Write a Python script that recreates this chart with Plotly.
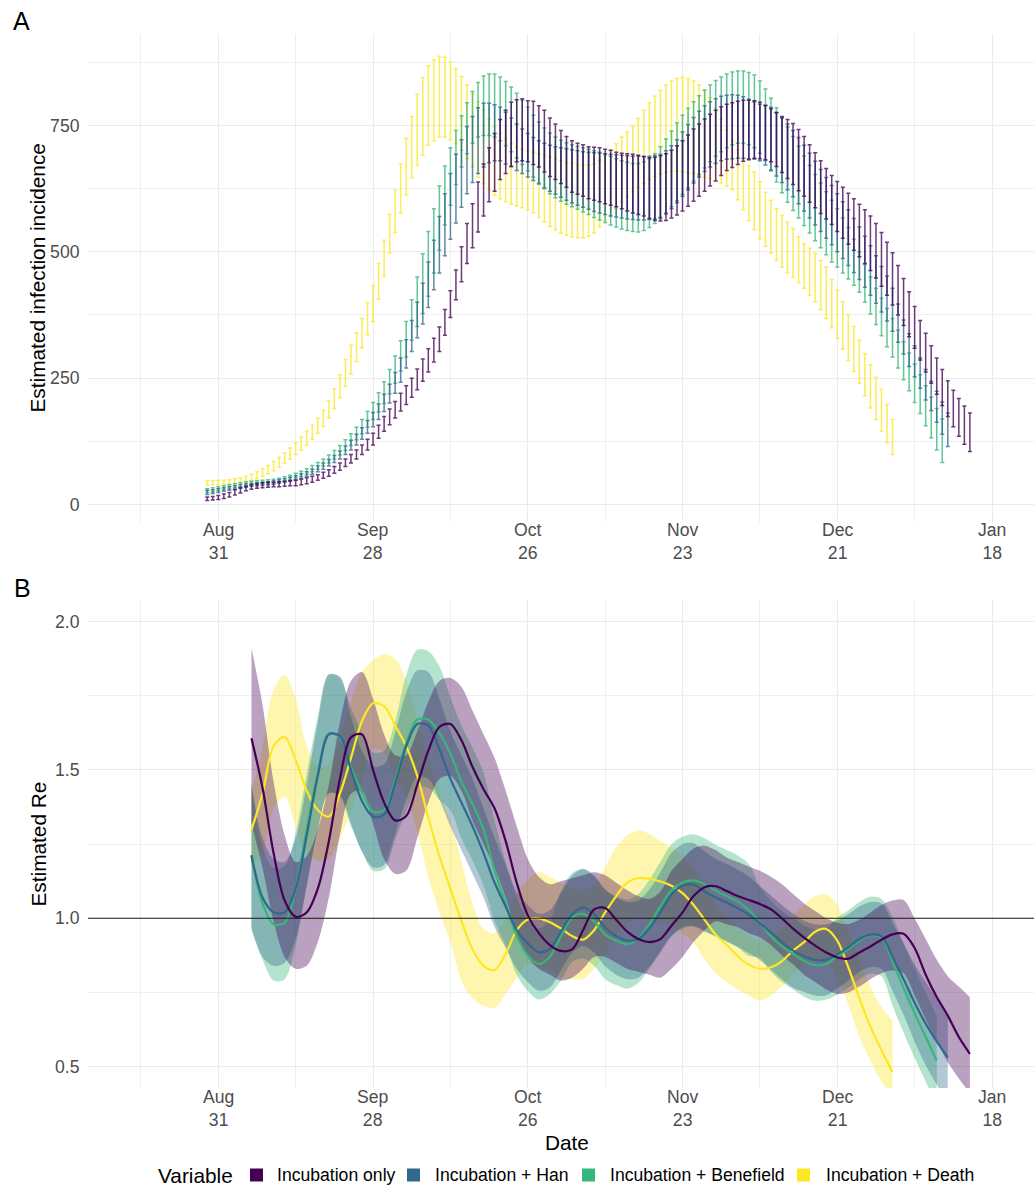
import pandas as pd
import plotly.graph_objects as go

W, H = 1034, 1187
FONT = "Liberation Sans, Arial, sans-serif"
TICK_COLOR = "#4D4D4D"

NAMES = ["Incubation only", "Incubation + Han", "Incubation + Benefield", "Incubation + Death"]
COLORS = ["#440154", "#31688E", "#35B779", "#FDE725"]

# ---------------- Panel A: daily error bars (lower / upper), starting 2020-08-29 ----------------
A_START = "2020-08-29"

PURPLE_A_UP = [15,16,18,21,24,29,33,36,39,41, 43,44,44,45,46,47,48,50,53,56,
               59,64,69,75,82,90,99,108,118,129, 141,157,174,189,204,220,235,250,268,288,
               308,329,351,386,423,464,510,556,595,638, 674,706,734,762,780,796,801,803,799,798,
               789,780,765,753,740,728,720,715,712,708, 707,706,703,701,697,695,694,693,691,688,
               686,687,690,694,701,710,720,731,743,753, 763,772,780,787,792,795,798,800,800,799,
               796,790,783,775,768,762,754,742,728,712, 696,680,665,651,639,628,616,605,594,583,
               571,556,538,519,498,473,447,421,392,364, 339,314,290,267,245,226,210,195,181]
PURPLE_A_LOW = [8,9,10,12,15,19,23,27,30,32, 33,34,35,35,36,37,37,39,41,44,
                48,52,56,62,68,75,82,90,99,108, 118,131,145,158,171,185,198,212,227,244,
                262,282,303,335,370,405,441,477,508,539, 571,599,620,643,655,669,678,680,678,673,
                668,658,649,643,635,628,618,614,610,605, 602,599,595,592,589,585,581,577,574,571,
                566,562,561,562,567,573,581,590,600,610, 620,630,640,651,661,667,673,679,682,685,
                684,682,678,669,657,645,633,621,610,598, 587,576,565,554,540,527,515,503,490,477,
                463,448,432,414,395,375,354,332,309,286, 262,240,218,196,174,154,135,119,105]

BLUE_A_UP = [28,29,31,33,35,37,39,41,42,43, 44,45,47,49,51,54,57,61,65,70,
             76,82,89,97,106,116,127,139,152,166, 182,199,218,238,261,290,326,364,400,438,
             480,523,570,615,655,693,722,748,768,785, 794,794,791,786,776,765,753,743,734,726,
             720,715,711,708,706,704,702,700,698,697, 696,695,694,693,692,691,690,689,689,689,
             689,690,693,700,710,722,737,752,766,778, 789,797,803,808,810,811,810,807,802,797,
             792,789,786,776,765,753,740,726,711,695, 679,663,647,631,615,599,583,566,549,531,
             512,492,471,452,428,397,365,338,314,290, 267,244,224,203,181]
BLUE_A_LOW = [20,22,24,26,28,30,32,34,36,37, 38,39,40,42,44,46,49,52,56,60,
              65,70,76,83,90,99,108,118,129,141, 154,168,184,201,220,242,270,303,330,357,
              390,425,458,492,525,557,588,615,637,655, 668,676,680,680,674,669,661,655,648,641,
              634,627,620,614,608,602,597,592,588,584, 580,577,574,571,569,567,565,564,563,563,
              564,565,568,575,585,597,610,623,636,648, 659,668,675,680,683,684,685,685,684,683,
              680,672,662,650,637,623,609,595,581,567, 553,540,527,514,500,487,473,459,445,430,
              414,398,381,363,343,321,298,273,253,230, 207,186,163,139,115]

GREEN_A_UP = [31,33,35,37,39,41,43,45,46,47, 48,49,50,52,55,58,62,66,71,77,
              83,90,98,107,117,128,140,153,168,184, 202,221,243,267,294,324,362,405,450,496,
              540,585,630,670,706,740,769,795,817,835, 848,852,852,846,837,826,814,800,786,770,
              757,745,735,727,721,716,712,709,706,703, 700,697,693,689,684,680,677,675,675,678,
              684,694,708,723,739,755,770,784,797,809, 820,830,839,846,852,856,858,858,855,850,
              838,822,804,785,766,747,728,709,690,671, 653,636,619,602,585,567,548,525,500,475,
              450,428,408,388,368,345,322,300,278,257, 235,212,190,169]
GREEN_A_LOW = [24,25,27,29,31,33,35,37,39,40, 41,42,43,45,47,50,53,56,60,65,
               70,76,82,90,98,107,117,128,140,153, 168,183,200,219,240,264,292,325,352,378,
               412,458,503,553,592,633,668,694,715,727, 730,730,727,720,710,698,686,673,660,648,
               636,625,615,607,600,594,589,584,579,574, 568,563,558,553,549,545,542,540,539,542,
               548,556,566,577,589,601,614,627,640,653, 666,678,689,698,706,712,715,715,712,706,
               695,680,660,638,617,598,582,567,552,537, 522,508,494,480,470,458,446,434,420,400,
               377,356,334,312,292,270,247,225,202,180, 156,132,108,83]

YELLOW_A_UP = [47,47,48,48,49,51,53,56,60,65, 71,77,85,93,102,112,122,133,145,157,
               171,187,206,229,257,287,315,340,368,399, 433,477,523,574,622,674,724,768,812,845,
               868,880,887,885,875,862,847,830,812,797, 780,763,747,734,724,714,707,703,700,697,
               694,691,688,684,680,677,675,673,672,672, 674,680,690,701,714,727,737,748,764,780,
               795,808,819,830,838,843,845,843,838,830, 819,805,785,762,741,720,701,684,670,658,
               638,618,602,585,572,559,546,530,516,507, 497,483,470,445,424,401,375,352,325,299,
               276,252,228,198,168]
YELLOW_A_LOW = [39,39,39,40,41,42,43,45,47,51, 56,61,67,74,82,90,99,108,118,129,
                141,155,171,190,211,234,258,283,310,336, 362,406,451,497,538,577,613,646,671,691,
                711,720,727,727,722,714,701,684,668,648, 635,622,612,605,599,594,591,587,583,577,
                568,559,550,543,537,533,530,528,528,531, 537,549,562,573,585,598,609,619,628,636,
                643,649,654,657,659,660,658,656,655,652, 648,645,641,636,630,623,603,583,562,544,
                526,511,497,483,470,459,449,439,428,414, 401,386,368,350,329,307,285,263,240,215,
                191,168,145,122,99]

# ---------------- Panel B: Re every 2 days from 2020-09-06 ----------------
B_START = "2020-09-06"

PURPLE_B = [1.607,1.44,1.22,1.06,1.005,1.02,1.10,1.26,1.47,1.61,
            1.62,1.50,1.39,1.33,1.345,1.45,1.565,1.645,1.655,1.60,
            1.51,1.435,1.37,1.26,1.12,1.01,0.95,0.91,0.89,0.895,
            0.96,1.03,1.035,0.995,0.955,0.93,0.92,0.93,0.975,1.02,
            1.075,1.105,1.108,1.092,1.075,1.062,1.048,1.03,1.0,0.965,
            0.935,0.908,0.885,0.868,0.864,0.885,0.905,0.928,0.946,0.948,
            0.90,0.81,0.735,0.672,0.60,0.543]
PURPLE_B_LOW = [1.32,1.17,0.99,0.87,0.83,0.84,0.92,1.07,1.28,1.42,
                1.43,1.32,1.20,1.15,1.16,1.27,1.39,1.47,1.48,1.43,
                1.33,1.25,1.17,1.07,0.95,0.87,0.83,0.81,0.79,0.80,
                0.83,0.87,0.87,0.85,0.83,0.82,0.81,0.80,0.83,0.87,
                0.92,0.96,0.99,0.98,0.97,0.95,0.936,0.91,0.875,0.845,
                0.81,0.785,0.76,0.745,0.75,0.77,0.795,0.815,0.824,0.815,
                0.74,0.66,0.585,0.515,0.46,0.41]
PURPLE_B_UP = [1.91,1.72,1.46,1.28,1.19,1.21,1.30,1.45,1.66,1.80,
               1.83,1.74,1.62,1.55,1.55,1.63,1.73,1.80,1.81,1.78,
               1.70,1.62,1.54,1.43,1.31,1.20,1.14,1.115,1.125,1.135,
               1.145,1.155,1.145,1.12,1.095,1.075,1.065,1.09,1.16,1.20,
               1.235,1.245,1.23,1.205,1.19,1.175,1.16,1.14,1.115,1.082,
               1.05,1.025,1.0,0.985,0.981,0.995,1.02,1.045,1.06,1.062,
               1.0,0.93,0.86,0.805,0.77,0.734]

BLUE_B = [1.213,1.07,1.02,1.02,1.10,1.28,1.48,1.62,1.615,1.50,
          1.395,1.342,1.35,1.455,1.58,1.655,1.65,1.57,1.47,1.39,
          1.31,1.22,1.12,1.04,0.96,0.915,0.886,0.897,0.955,1.013,
          1.037,1.015,0.968,0.94,0.925,0.93,0.967,1.02,1.08,1.11,
          1.113,1.09,1.07,1.053,1.034,1.012,0.984,0.952,0.92,0.891,
          0.872,0.86,0.86,0.878,0.902,0.93,0.945,0.94,0.87,0.795,
          0.715,0.645,0.585,0.531]
BLUE_B_LOW = [0.97,0.87,0.84,0.85,0.93,1.11,1.30,1.42,1.415,1.32,
              1.225,1.172,1.18,1.285,1.40,1.475,1.47,1.40,1.31,1.23,
              1.15,1.07,0.97,0.90,0.83,0.785,0.756,0.767,0.825,0.883,
              0.907,0.885,0.838,0.81,0.795,0.80,0.837,0.885,0.94,0.97,
              0.973,0.955,0.94,0.923,0.904,0.882,0.859,0.827,0.795,0.766,
              0.752,0.74,0.74,0.763,0.79,0.82,0.835,0.83,0.755,0.675,
              0.585,0.505,0.44,0.38]
BLUE_B_UP = [1.45,1.27,1.20,1.19,1.27,1.45,1.66,1.82,1.815,1.68,
             1.565,1.512,1.52,1.625,1.76,1.835,1.83,1.74,1.63,1.55,
             1.47,1.37,1.27,1.18,1.09,1.045,1.016,1.027,1.085,1.143,
             1.167,1.145,1.098,1.07,1.055,1.06,1.097,1.155,1.22,1.25,
             1.253,1.225,1.20,1.183,1.164,1.142,1.109,1.077,1.045,1.016,
             0.992,0.98,0.98,0.993,1.014,1.04,1.055,1.05,0.985,0.915,
             0.845,0.785,0.73,0.68]

GREEN_B = [1.21,1.05,0.98,0.985,1.10,1.30,1.49,1.624,1.61,1.51,
           1.425,1.36,1.365,1.465,1.59,1.67,1.67,1.625,1.555,1.46,
           1.385,1.30,1.16,1.05,0.94,0.875,0.846,0.87,0.94,1.002,
           1.015,0.99,0.945,0.925,0.913,0.932,0.98,1.04,1.095,1.12,
           1.128,1.115,1.093,1.075,1.057,1.028,0.987,0.94,0.905,0.88,
           0.856,0.842,0.846,0.872,0.896,0.925,0.943,0.935,0.855,0.765,
           0.68,0.60,0.52]
GREEN_B_LOW = [0.96,0.86,0.79,0.795,0.91,1.11,1.30,1.424,1.41,1.31,
               1.225,1.16,1.165,1.265,1.36,1.44,1.44,1.40,1.365,1.27,
               1.195,1.11,0.99,0.91,0.81,0.755,0.726,0.745,0.79,0.852,
               0.865,0.84,0.795,0.775,0.763,0.782,0.83,0.89,0.94,0.965,
               0.973,0.96,0.938,0.92,0.902,0.873,0.867,0.82,0.785,0.76,
               0.736,0.722,0.726,0.742,0.766,0.795,0.813,0.805,0.705,0.615,
               0.53,0.45,0.37]
GREEN_B_UP = [1.46,1.24,1.17,1.175,1.29,1.49,1.68,1.824,1.81,1.71,
              1.625,1.56,1.565,1.665,1.82,1.905,1.90,1.85,1.745,1.65,
              1.575,1.49,1.33,1.19,1.07,0.995,0.966,0.995,1.09,1.152,
              1.165,1.14,1.095,1.075,1.063,1.082,1.13,1.19,1.25,1.275,
              1.283,1.27,1.248,1.23,1.212,1.183,1.107,1.06,1.025,1.0,
              0.976,0.962,0.966,1.002,1.026,1.055,1.073,1.065,1.005,0.915,
              0.83,0.75,0.67]

YELLOW_B = [1.298,1.42,1.58,1.612,1.534,1.43,1.365,1.343,1.42,1.54,
            1.665,1.725,1.715,1.65,1.58,1.48,1.34,1.21,1.10,0.99,
            0.895,0.84,0.826,0.88,0.96,0.996,1.0,0.987,0.966,0.94,
            0.928,0.96,1.02,1.075,1.12,1.136,1.133,1.124,1.11,1.085,
            1.045,0.995,0.945,0.91,0.872,0.843,0.83,0.835,0.856,0.891,
            0.92,0.955,0.964,0.925,0.835,0.73,0.635,0.555,0.481]
YELLOW_B_LOW = [1.18,1.22,1.37,1.41,1.31,1.22,1.195,1.20,1.27,1.36,
                1.47,1.57,1.56,1.47,1.41,1.29,1.14,1.02,0.92,0.79,
                0.73,0.705,0.698,0.745,0.80,0.845,0.835,0.825,0.80,0.795,
                0.795,0.83,0.88,0.94,0.98,1.01,1.00,0.99,0.975,0.95,
                0.92,0.86,0.815,0.785,0.76,0.74,0.722,0.74,0.77,0.81,
                0.845,0.865,0.855,0.80,0.71,0.60,0.52,0.45,0.40]
YELLOW_B_UP = [1.42,1.58,1.77,1.82,1.74,1.58,1.51,1.52,1.60,1.73,
               1.83,1.87,1.89,1.875,1.80,1.67,1.54,1.42,1.33,1.19,
               1.05,0.965,0.95,1.0,1.08,1.13,1.155,1.14,1.12,1.10,
               1.093,1.115,1.17,1.24,1.28,1.296,1.285,1.26,1.24,1.21,
               1.17,1.11,1.05,1.00,0.97,0.94,0.925,0.94,0.965,1.01,
               1.045,1.075,1.08,1.045,0.96,0.86,0.77,0.70,0.655]

# ---------------- Axis ticks ----------------
TICK_DATES = ["2020-08-31", "2020-09-28", "2020-10-26", "2020-11-23", "2020-12-21", "2021-01-18"]
TICK_MONTHS = ["Aug", "Sep", "Oct", "Nov", "Dec", "Jan"]
TICK_DAYS = ["31", "28", "26", "23", "21", "18"]
MINOR_DATES = ["2020-08-17", "2020-09-14", "2020-10-12", "2020-11-09", "2020-12-07", "2021-01-04"]
A_YTICKS = [0, 250, 500, 750]
A_YMINOR = [125, 375, 625, 875]
B_YTICKS = [0.5, 1.0, 1.5, 2.0]
B_YTICKTEXT = ["0.5", "1.0", "1.5", "2.0"]
B_YMINOR = [0.75, 1.25, 1.75]


def rgba(hexc, a):
    h = hexc.lstrip("#")
    r, g, b = int(h[0:2], 16), int(h[2:4], 16), int(h[4:6], 16)
    return f"rgba({r},{g},{b},{a})"


def px_y(y):
    return 1 - y / H


def px_x(x):
    return x / W


A_SERIES = [(PURPLE_A_LOW, PURPLE_A_UP), (BLUE_A_LOW, BLUE_A_UP),
            (GREEN_A_LOW, GREEN_A_UP), (YELLOW_A_LOW, YELLOW_A_UP)]
B_SERIES = [(PURPLE_B, PURPLE_B_LOW, PURPLE_B_UP), (BLUE_B, BLUE_B_LOW, BLUE_B_UP),
            (GREEN_B, GREEN_B_LOW, GREEN_B_UP), (YELLOW_B, YELLOW_B_LOW, YELLOW_B_UP)]
DRAW_ORDER = [3, 2, 1, 0]

fig = go.Figure()

# Panel A error bars
for i in DRAW_ORDER:
    low, up = A_SERIES[i]
    x = pd.date_range(A_START, periods=len(up), freq="D")
    mid = [(u + l) / 2 for u, l in zip(up, low)]
    fig.add_trace(go.Scatter(
        x=x, y=mid, mode="markers", name=NAMES[i],
        marker=dict(size=1, color="rgba(0,0,0,0)"),
        error_y=dict(type="data", symmetric=False,
                     array=[u - m for u, m in zip(up, mid)],
                     arrayminus=[m - l for m, l in zip(mid, low)],
                     color=rgba(COLORS[i], 0.78), thickness=1.5, width=2),
        xaxis="x", yaxis="y", showlegend=False, hoverinfo="skip"))

# Panel B ribbons
for i in DRAW_ORDER:
    line, low, up = B_SERIES[i]
    x = pd.date_range(B_START, periods=len(line), freq="2D")
    fig.add_trace(go.Scatter(x=x, y=low, mode="lines",
                             line=dict(width=0, shape="spline", smoothing=0.9, color=COLORS[i]),
                             xaxis="x2", yaxis="y2", showlegend=False, hoverinfo="skip"))
    fig.add_trace(go.Scatter(x=x, y=up, mode="lines", fill="tonexty",
                             fillcolor=rgba(COLORS[i], 0.37),
                             line=dict(width=0, shape="spline", smoothing=0.9, color=COLORS[i]),
                             xaxis="x2", yaxis="y2", showlegend=False, hoverinfo="skip"))

# Panel B lines
for i in DRAW_ORDER:
    line, low, up = B_SERIES[i]
    x = pd.date_range(B_START, periods=len(line), freq="2D")
    fig.add_trace(go.Scatter(x=x, y=line, mode="lines", name=NAMES[i],
                             line=dict(width=2.2, shape="spline", smoothing=0.9, color=COLORS[i]),
                             xaxis="x2", yaxis="y2", showlegend=False, hoverinfo="skip"))

base = pd.Timestamp("2020-08-31")
XRANGE = [base + pd.Timedelta(days=-23.58), base + pd.Timedelta(days=147.6)]

grid = dict(showgrid=True, gridcolor="#EBEBEB", gridwidth=1.1, zeroline=False, showline=False)
xcommon = dict(type="date", range=XRANGE, tickmode="array", tickvals=TICK_DATES,
               showticklabels=False, ticks="",
               minor=dict(tickmode="array", tickvals=MINOR_DATES, showgrid=True,
                          gridcolor="#EFEFEF", gridwidth=0.6),
               domain=[px_x(88), 1.0], automargin=False, **grid)
ytick = dict(tickfont=dict(family=FONT, size=17.6, color=TICK_COLOR),
             ticks="outside", ticklen=4, tickcolor="rgba(0,0,0,0)", automargin=False)

fig.update_layout(
    width=W, height=H, autosize=False,
    margin=dict(l=0, r=0, t=0, b=0),
    paper_bgcolor="white", plot_bgcolor="white",
    font=dict(family=FONT, color="black"),
    showlegend=False,
    xaxis=dict(anchor="y", **xcommon),
    xaxis2=dict(anchor="y2", **xcommon),
    yaxis=dict(domain=[px_y(522), px_y(34)], range=[-34.6, 931], tickmode="array",
               tickvals=A_YTICKS, ticktext=[str(v) for v in A_YTICKS],
               minor=dict(tickmode="array", tickvals=A_YMINOR, showgrid=True,
                          gridcolor="#EFEFEF", gridwidth=0.6),
               **grid, **ytick),
    yaxis2=dict(domain=[px_y(1088), px_y(600)], range=[0.428, 2.073], tickmode="array",
                tickvals=B_YTICKS, ticktext=B_YTICKTEXT,
                minor=dict(tickmode="array", tickvals=B_YMINOR, showgrid=True,
                           gridcolor="#EFEFEF", gridwidth=0.6),
                **grid, **ytick),
)

# reference line at Re = 1
fig.add_shape(type="line", xref="x2 domain", x0=0, x1=1, yref="y2", y0=1, y1=1,
              line=dict(color="#1a1a1a", width=1.1), layer="above")

ann = []
tfont = dict(family=FONT, size=17.6, color=TICK_COLOR)
for xr, yc in (("x", 541), ("x2", 1108)):
    for d, m, dd in zip(TICK_DATES, TICK_MONTHS, TICK_DAYS):
        ann.append(dict(x=d, xref=xr, y=px_y(yc), yref="paper", text=f"{m}<br>{dd}",
                        showarrow=False, xanchor="center", yanchor="middle", font=tfont))

title_font = dict(family=FONT, size=20.8, color="black")
ann.append(dict(x=px_x(37.5), y=px_y(278), xref="paper", yref="paper",
                text="Estimated infection incidence", textangle=-90, showarrow=False,
                xanchor="center", yanchor="middle", font=title_font))
ann.append(dict(x=px_x(37.5), y=px_y(844), xref="paper", yref="paper",
                text="Estimated Re", textangle=-90, showarrow=False,
                xanchor="center", yanchor="middle", font=title_font))
ann.append(dict(x=px_x(567), y=px_y(1142), xref="paper", yref="paper",
                text="Date", showarrow=False, xanchor="center", yanchor="middle", font=title_font))
panel_font = dict(family=FONT, size=25, color="black")
ann.append(dict(x=px_x(11), y=px_y(21), xref="paper", yref="paper", text="A",
                showarrow=False, xanchor="left", yanchor="middle", font=panel_font))
ann.append(dict(x=px_x(12), y=px_y(588), xref="paper", yref="paper", text="B",
                showarrow=False, xanchor="left", yanchor="middle", font=panel_font))

# legend (manual, bottom)
LEG_Y = 1175
ann.append(dict(x=px_x(157), y=px_y(LEG_Y), xref="paper", yref="paper", text="Variable",
                showarrow=False, xanchor="left", yanchor="middle", borderpad=0, font=title_font))
KEY_X = [250, 407, 582, 797]
TEXT_X = [276, 434, 609, 825]
for i in range(4):
    fig.add_shape(type="rect", xref="paper", yref="paper",
                  x0=px_x(KEY_X[i]), x1=px_x(KEY_X[i] + 13),
                  y0=px_y(LEG_Y + 6.5), y1=px_y(LEG_Y - 6.5),
                  fillcolor=COLORS[i], line=dict(width=0))
    ann.append(dict(x=px_x(TEXT_X[i]), y=px_y(LEG_Y), xref="paper", yref="paper",
                    text=NAMES[i], showarrow=False, xanchor="left", yanchor="middle", borderpad=0,
                    font=dict(family=FONT, size=17.6, color="black")))

fig.update_layout(annotations=ann)
fig.write_html("out.html", config={"displayModeBar": False},
               post_script="document.body.style.margin='0px';document.body.style.overflow='hidden';")
